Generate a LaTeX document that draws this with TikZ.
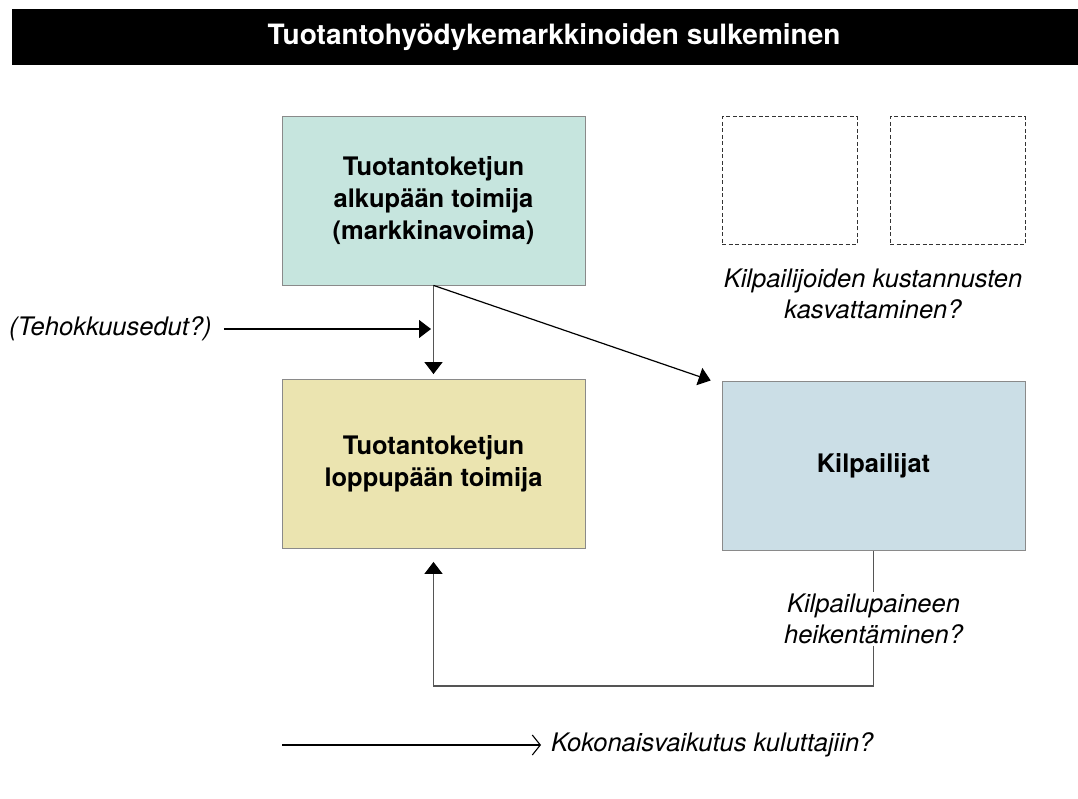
\documentclass[tikz,border=0pt]{standalone}
\usepackage{fontspec}
\setmainfont{TeX Gyre Heros}
\usetikzlibrary{arrows.meta}
\definecolor{tealfill}{HTML}{C6E5DE}
\definecolor{yelfill}{HTML}{EBE4B0}
\definecolor{bluefill}{HTML}{CBDEE6}
\definecolor{boxline}{HTML}{8A8A8A}
\definecolor{linegray}{HTML}{555555}
\tikzset{
  mainbox/.style={draw=boxline, line width=0.8pt, minimum width=303pt, minimum height=169pt, align=center, font=\fontsize{25.5}{32}\selectfont\bfseries, inner sep=0pt},
  dashbox/.style={draw=black!80, dash pattern=on 4pt off 2.5pt, line width=1pt, minimum width=135pt, minimum height=128pt, inner sep=0pt},
  lbl/.style={align=center, font=\fontsize{25.5}{31}\selectfont\itshape, inner sep=2pt},
  conn/.style={line width=1.2pt, draw=linegray},
  tip/.style={-{Triangle[length=12pt,width=18pt,color=black]}},
}
\begin{document}
\begin{tikzpicture}[x=1pt,y=-1pt]
\useasboundingbox (0,0) rectangle (1078,799);
\fill[black] (12,9) rectangle (1078,65);
\node[text=white, font=\fontsize{28}{32}\selectfont\bfseries] (title) at (554,37) {Tuotantohyödykemarkkinoiden sulkeminen};

\node[mainbox, fill=tealfill] (up) at (433.5,200.5) {Tuotantoketjun\\alkupään toimija\\(markkinavoima)};
\node[mainbox, fill=yelfill] (down) at (433.5,464) {Tuotantoketjun\\loppupään toimija};
\node[mainbox, fill=bluefill] (comp) at (873.5,466) {Kilpailijat};

\node[dashbox] (d1) at (789.5,181) {};
\node[dashbox] (d2) at (957.5,181) {};
\node[lbl] (cost) at (873,294) {Kilpailijoiden kustannusten\\kasvattaminen?};

\node[lbl, anchor=west, inner sep=0pt] (teho) at (9,329) {(Tehokkuusedut?)};
\coordinate (tehoend) at (431,329);
\draw[conn, draw=black, tip] (teho.east) ++(12,0) -- (tehoend);

\draw[conn, tip, shorten >=5pt] (up.south) -- (down.north);
\draw[conn, draw=black, tip, shorten >=2pt] (up.south) -- ([xshift=-9pt]comp.north west);

\node[lbl] (press) at (873.5,619) {Kilpailupaineen\\heikentäminen?};
\draw[conn] (comp.south) -- (press.north);
\coordinate (corner) at (873.5,686);
\draw[conn, tip, shorten >=13pt] (press.south) -- (corner) -| (down.south);

\coordinate (kstart) at (282,745);
\node[lbl, anchor=west, inner sep=0pt] (kok) at (551,745) {Kokonaisvaikutus kuluttajiin?};
\draw[line width=1.1pt, -{Straight Barb[length=8pt,width=20pt]}] (kstart) -- ([xshift=-10pt]kok.west);
\end{tikzpicture}
\end{document}
